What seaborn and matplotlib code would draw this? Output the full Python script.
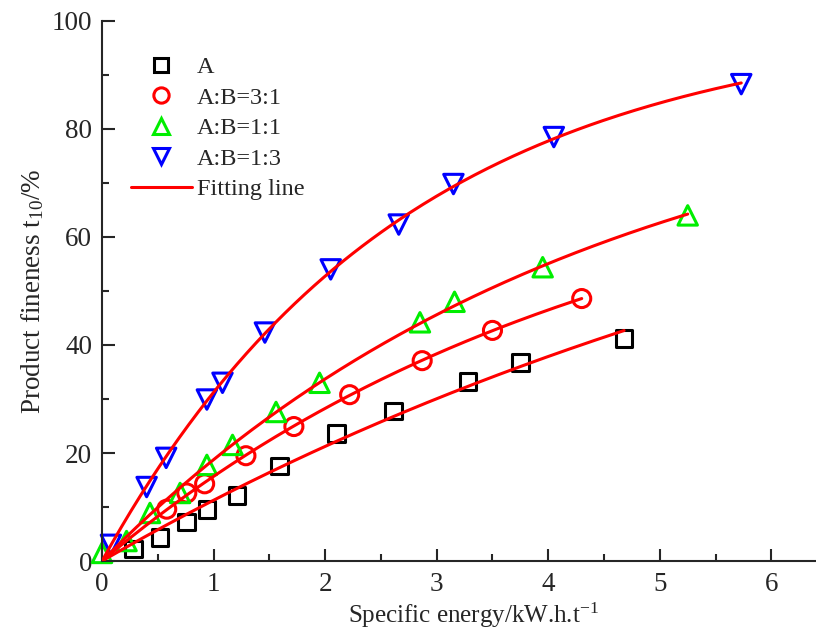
import matplotlib
matplotlib.use("Agg")
import matplotlib.pyplot as plt
from matplotlib.lines import Line2D
from matplotlib.ticker import MultipleLocator
import numpy as np
import pandas as pd
import seaborn as sns

# measured points (specific energy kWh/t, t10 %)
a_x = [0.28, 0.52, 0.76, 0.94, 1.21, 1.59, 2.10, 2.61, 3.28, 3.75, 4.68]
a_y = [2.2, 4.3, 7.2, 9.6, 12.1, 17.6, 23.6, 27.8, 33.2, 36.7, 41.2]

ab31_x = [0.58, 0.76, 0.92, 1.29, 1.72, 2.22, 2.87, 3.50, 4.30]
ab31_y = [9.6, 12.6, 14.3, 19.5, 24.9, 30.8, 37.1, 42.7, 48.6]

ab11_x = [0.0, 0.22, 0.43, 0.70, 0.94, 1.17, 1.56, 1.95, 2.85, 3.16, 3.95, 5.25]
ab11_y = [1.5, 3.7, 8.9, 12.6, 17.8, 21.5, 27.6, 33.0, 44.2, 48.0, 54.4, 64.0]

ab13_x = [0.08, 0.40, 0.575, 0.94, 1.08, 1.46, 2.05, 2.66, 3.15, 4.05, 5.73]
ab13_y = [3.0, 13.7, 19.1, 29.9, 33.0, 42.3, 54.0, 62.3, 69.8, 78.5, 88.3]

labels = ["A", "A:B=3:1", "A:B=1:1", "A:B=1:3"]
colors = ["black", "#ff0000", "#00ee00", "#0000ff"]
markers = ["s", "o", "^", "v"]
msizes = [12, 13, 14, 14]


def fit_t10(x, y):
    # t10 = A(1 - exp(-b E)), least squares on a grid of b
    x = np.asarray(x)
    y = np.asarray(y)
    best = None
    for b in np.linspace(0.01, 1.5, 3000):
        g = 1 - np.exp(-b * x)
        A = (g @ y) / (g @ g)
        err = np.sum((A * g - y) ** 2)
        if best is None or err < best[0]:
            best = (err, A, b)
    return best[1], best[2]


sns.set_style("ticks")
plt.rcParams["font.family"] = ["Liberation Serif", "DejaVu Serif"]
plt.rcParams["mathtext.fontset"] = "custom"
plt.rcParams["mathtext.rm"] = "Liberation Serif"
plt.rcParams["mathtext.it"] = "Liberation Serif"

fig = plt.figure(figsize=(8.16, 6.35), dpi=100)
ax = fig.add_axes([0.125, 0.1165, 0.875, 0.8505])

series = [(a_x, a_y), (ab31_x, ab31_y), (ab11_x, ab11_y), (ab13_x, ab13_y)]
for (xs, ys), lab, c, m, ms in zip(series, labels, colors, markers, msizes):
    A, b = fit_t10(xs, ys)
    e = np.linspace(0, max(xs), 200)
    fit = pd.DataFrame({"E": e, "t10": A * (1 - np.exp(-b * e))})
    sns.lineplot(data=fit, x="E", y="t10", color="#ff0000", linewidth=2.2,
                 ax=ax, zorder=3)
    df = pd.DataFrame({"E": xs, "t10": ys})
    sns.scatterplot(data=df, x="E", y="t10", marker=m, s=ms ** 2,
                    facecolors="none", edgecolors=c, linewidths=2.2,
                    ax=ax, zorder=2, clip_on=False)

ax.set_xlim(0, 6.4)
ax.set_ylim(0, 100)
ax.xaxis.set_major_locator(MultipleLocator(1))
ax.xaxis.set_minor_locator(MultipleLocator(0.5))
ax.yaxis.set_major_locator(MultipleLocator(20))
ax.yaxis.set_minor_locator(MultipleLocator(10))
ax.tick_params(which="both", direction="in", width=1.5, labelsize=19.5, pad=7)
ax.tick_params(axis="x", pad=8)
ax.tick_params(which="major", length=9)
ax.tick_params(which="minor", length=5)
for sp in ["top", "right"]:
    ax.spines[sp].set_visible(False)
for sp in ["left", "bottom"]:
    ax.spines[sp].set_linewidth(1.5)

ax.set_xlabel(r"Specific energy/kW.h.t$^{\mathrm{-1}}$", fontsize=18)
ax.xaxis.set_label_coords(0.52, -0.074)
ax.set_ylabel(r"Product fineness t$_{\mathrm{10}}$/%", fontsize=19.5, labelpad=4)

handles = [Line2D([], [], linestyle="none", marker=m, markersize=ms - 2,
                  markerfacecolor="none", markeredgecolor=c, markeredgewidth=2.2)
           for c, m, ms in zip(colors, markers, msizes)]
handles.append(Line2D([], [], color="#ff0000", linewidth=2.2))
ax.legend(handles, labels + ["Fitting line"], loc="upper left",
          bbox_to_anchor=(0.01, 0.975), frameon=False, fontsize=17.5,
          handlelength=2.5, labelspacing=0.35, handletextpad=0.2)

fig.savefig("out.png", dpi=100)
